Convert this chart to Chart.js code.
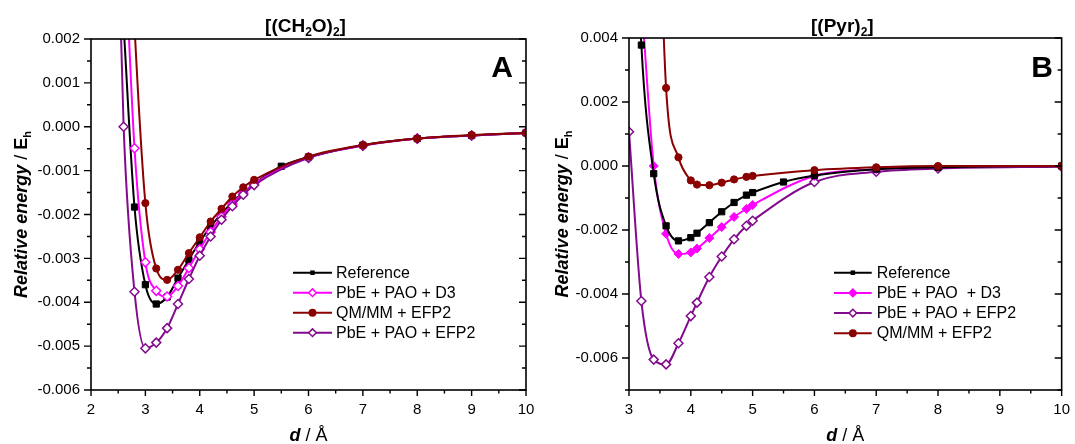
<!DOCTYPE html>
<html><head><meta charset="utf-8">
<script src="https://cdn.jsdelivr.net/npm/chart.js@4.4.1/dist/chart.umd.min.js"></script>
<style>
html,body{margin:0;padding:0;background:#fff;}
#wrap{position:relative;width:1075px;height:444px;overflow:hidden;background:#fff;}
#cA{position:absolute;left:0;top:0;}
#cB{position:absolute;left:540px;top:0;}
</style></head><body>
<div id="wrap"><canvas id="cA" width="540" height="444"></canvas><canvas id="cB" width="535" height="444"></canvas></div>
<script>
// ---------- Panel A data: [(CH2O)2] ----------
const xA_ref = [2.6, 2.8, 3.0, 3.2, 3.4, 3.6, 3.8, 4.0, 4.2, 4.4, 4.6, 4.8, 5.0, 5.5, 6, 7, 8, 9, 10];
const yA_ref = [0.0023, -0.00183, -0.0036, -0.00404, -0.00388, -0.00345, -0.00303, -0.00262, -0.00228, -0.00198, -0.00172, -0.0015, -0.0013, -0.0009, -0.00069, -0.00042, -0.00027, -0.0002, -0.00014];
const xA_d3 = [2.6, 2.8, 3.0, 3.2, 3.4, 3.6, 3.8, 4.0, 4.2, 4.4, 4.6, 4.8, 5.0, 6, 7, 8, 9, 10];
const yA_d3 = [0.0048, -0.00049, -0.00309, -0.00374, -0.00387, -0.00363, -0.00322, -0.00279, -0.0024, -0.00205, -0.00176, -0.00151, -0.0013, -0.0007, -0.00043, -0.00027, -0.0002, -0.00014];
const xA_qm = [2.6, 2.8, 3.0, 3.2, 3.4, 3.6, 3.8, 4.0, 4.2, 4.4, 4.6, 4.8, 5.0, 6, 7, 8, 9, 10];
const yA_qm = [0.008, 0.0023, -0.00174, -0.00323, -0.00349, -0.00326, -0.00288, -0.00252, -0.00216, -0.00187, -0.00159, -0.00138, -0.00121, -0.00068, -0.00042, -0.00027, -0.00019, -0.00014];
const xA_efp = [2.4, 2.6, 2.8, 3.0, 3.2, 3.4, 3.6, 3.8, 4.0, 4.2, 4.4, 4.6, 4.8, 5.0, 6, 7, 8, 9, 10];
const yA_efp = [0.009, 0.0, -0.00376, -0.00505, -0.00492, -0.00459, -0.00404, -0.00347, -0.00294, -0.0025, -0.00212, -0.00181, -0.00155, -0.00133, -0.00071, -0.00043, -0.00027, -0.0002, -0.00014];
const xTicksA = [2, 3, 4, 5, 6, 7, 8, 9, 10];
const yTicksA = [-0.006, -0.005, -0.004, -0.003, -0.002, -0.001, 0.000, 0.001, 0.002];

// ---------- Panel B data: [(Pyr)2] ----------
const xB_ref = [3.0, 3.2, 3.4, 3.6, 3.8, 4.0, 4.1, 4.3, 4.5, 4.7, 4.9, 5.0, 5.5, 6, 7, 8, 10];
const yB_ref = [0.014, 0.00378, -0.00024, -0.00187, -0.00234, -0.00224, -0.0021, -0.00177, -0.00143, -0.00114, -0.00091, -0.00083, -0.0005, -0.0003, -0.0001, -0.00004, 0.0];
const xB_d3 = [3.2, 3.4, 3.6, 3.8, 4.0, 4.1, 4.3, 4.5, 4.7, 4.9, 5.0, 6, 7, 8, 10];
const yB_d3 = [0.0052, 0.0, -0.00212, -0.00275, -0.0027, -0.00258, -0.00225, -0.00191, -0.00159, -0.00134, -0.00122, -0.00031, -0.0001, -0.00003, 0.0];
const xB_efp = [3.0, 3.2, 3.4, 3.6, 3.8, 4.0, 4.1, 4.3, 4.5, 4.7, 4.9, 5.0, 6, 7, 8, 10];
const yB_efp = [0.00107, -0.00422, -0.00605, -0.0062, -0.00554, -0.00469, -0.00427, -0.00347, -0.00283, -0.00229, -0.00187, -0.00171, -0.0005, -0.00018, -0.00008, -0.00002];
const xB_qm = [3.4, 3.6, 3.8, 4.0, 4.1, 4.3, 4.5, 4.7, 4.9, 5.0, 6, 7, 8, 10];
const yB_qm = [0.014, 0.00244, 0.00027, -0.00045, -0.00058, -0.0006, -0.00052, -0.00042, -0.00034, -0.00031, -0.00013, -0.00004, 0.0, 0.0];
const xTicksB = [3, 4, 5, 6, 7, 8, 9, 10];
const yTicksB = [-0.006, -0.004, -0.002, 0.000, 0.002, 0.004];

const labelsA = ['Reference', 'PbE + PAO + D3', 'QM/MM + EFP2', 'PbE + PAO + EFP2'];
const labelsB = ['Reference', 'PbE + PAO  + D3', 'PbE + PAO + EFP2', 'QM/MM + EFP2'];

const C_BLACK = '#000000', C_MAG = '#FF00FF', C_RED = '#8B0000', C_PUR = '#820A8C';
const FONT = "'Liberation Sans', Arial, Helvetica, sans-serif";
Chart.defaults.font.family = FONT;
Chart.defaults.color = '#000';

function ds(label, xs, ys, color, style, filled, radius, order) {
  return {
    label, order,
    data: xs.map((x, i) => ({x, y: ys[i]})),
    borderColor: color, backgroundColor: filled ? color : '#fff',
    pointBackgroundColor: filled ? color : '#fff', pointBorderColor: color,
    pointStyle: style, pointRadius: radius, pointHoverRadius: radius,
    pointBorderWidth: filled ? 1 : 1.5, borderWidth: 2,
    cubicInterpolationMode: 'monotone', tension: 0.4, capBezierPoints: false,
    fill: false, mk: {style, filled, color}
  };
}

function fmtY(v) { return Math.abs(v) < 1e-9 ? '0.000' : v.toFixed(3); }

function drawRich(ctx, segs, x, y, align) {
  let total = 0;
  segs.forEach(s => { ctx.font = s.font; s.w = ctx.measureText(s.t).width; total += s.w; });
  let cx = align === 'center' ? x - total / 2 : (align === 'right' ? x - total : x);
  ctx.textAlign = 'left'; ctx.textBaseline = 'alphabetic';
  segs.forEach(s => { ctx.font = s.font; ctx.fillText(s.t, cx, y + (s.dy || 0)); cx += s.w; });
}

function marker(ctx, style, filled, color, cx, cy, r) {
  ctx.save();
  ctx.fillStyle = filled ? color : '#fff'; ctx.strokeStyle = color; ctx.lineWidth = 1.5;
  ctx.beginPath();
  if (style === 'rect') { const s = r * Math.SQRT1_2; ctx.rect(cx - s, cy - s, 2 * s, 2 * s); }
  else if (style === 'rectRot') { ctx.moveTo(cx, cy - r); ctx.lineTo(cx + r, cy); ctx.lineTo(cx, cy + r); ctx.lineTo(cx - r, cy); ctx.closePath(); }
  else { ctx.arc(cx, cy, r, 0, Math.PI * 2); }
  ctx.fill(); if (!filled || style !== 'rect') ctx.stroke();
  ctx.restore();
}

const decoPlugin = {
  id: 'deco',
  afterDatasetsDraw(chart, args, o) {
    const {ctx, chartArea: a} = chart;
    const xs = chart.scales.x, ys = chart.scales.y;
    ctx.save();
    // frame
    ctx.strokeStyle = '#000'; ctx.lineWidth = 1.6;
    ctx.strokeRect(a.left, a.top, a.right - a.left, a.bottom - a.top);
    ctx.lineWidth = 1.4;
    ctx.beginPath();
    const xt = o.xTicks, yt = o.yTicks;
    xt.forEach((v, i) => {
      const p = xs.getPixelForValue(v);
      ctx.moveTo(p, a.bottom); ctx.lineTo(p, a.bottom + 6);
      if (i < xt.length - 1) {
        const q = xs.getPixelForValue((v + xt[i + 1]) / 2);
        ctx.moveTo(q, a.bottom); ctx.lineTo(q, a.bottom + 3.5);
      }
    });
    const yMinor = [];
    yt.forEach((v, i) => { if (i < yt.length - 1) yMinor.push((v + yt[i + 1]) / 2); });
    if (o.yMinorExtra) yMinor.push(...o.yMinorExtra);
    yt.forEach(v => {
      const p = ys.getPixelForValue(v);
      ctx.moveTo(a.left, p); ctx.lineTo(a.left - 7, p);
      ctx.moveTo(a.right, p); ctx.lineTo(a.right - 7, p);
    });
    yMinor.forEach(v => {
      const p = ys.getPixelForValue(v);
      ctx.moveTo(a.left, p); ctx.lineTo(a.left - 4, p);
      ctx.moveTo(a.right, p); ctx.lineTo(a.right - 4, p);
    });
    ctx.stroke();

    // legend
    const L = o.legend;
    chart.data.datasets.forEach((d, i) => {
      const y = L.y0 + i * L.dy;
      ctx.strokeStyle = d.mk.color; ctx.lineWidth = 2;
      ctx.beginPath(); ctx.moveTo(L.x1, y); ctx.lineTo(L.x2, y); ctx.stroke();
      const r = d.mk.style === 'rect' ? 3.2 : (d.mk.style === 'rectRot' ? 3.8 : 3.2);
      marker(ctx, d.mk.style, d.mk.filled, d.mk.color, (L.x1 + L.x2) / 2, y, r);
      ctx.fillStyle = '#000'; ctx.font = '16px ' + FONT;
      ctx.textAlign = 'left'; ctx.textBaseline = 'middle';
      ctx.fillText(d.label, L.tx, y + 0.5);
    });

    ctx.fillStyle = '#000';
    // panel title
    const cxT = (a.left + a.right) / 2 - 3;
    drawRich(ctx, o.title, cxT, 32, 'center');
    // panel letter
    ctx.font = 'bold 30px ' + FONT; ctx.textAlign = 'right'; ctx.textBaseline = 'alphabetic';
    ctx.fillText(o.letter, o.letterX, 77);
    // x-axis title
    drawRich(ctx, [
      {t: 'd', font: 'italic bold 18px ' + FONT},
      {t: ' / Å', font: '18px ' + FONT}
    ], (a.left + a.right) / 2, 441, 'center');
    // y-axis title
    ctx.save();
    ctx.translate(o.yTitleX, (a.top + a.bottom) / 2);
    ctx.rotate(-Math.PI / 2);
    drawRich(ctx, [
      {t: 'Relative energy', font: 'italic bold 18px ' + FONT},
      {t: ' / ', font: '18px ' + FONT},
      {t: 'E', font: 'bold 18px ' + FONT},
      {t: 'h', font: 'bold 11px ' + FONT, dy: 4}
    ], 0, 6.5, 'center');
    ctx.restore();
    ctx.restore();
  }
};

function makeChart(id, datasets, xmin, xmax, ymin, ymax, xTicks, yTicks, padR, yW, deco) {
  return new Chart(document.getElementById(id), {
    type: 'line',
    data: {datasets},
    plugins: [decoPlugin],
    options: {
      responsive: false, animation: false, devicePixelRatio: 1,
      layout: {padding: {top: deco.padT, right: padR, left: 0, bottom: 0}},
      elements: {line: {capBezierPoints: false}},
      plugins: {legend: {display: false}, tooltip: {enabled: false}, title: {display: false}, deco},
      scales: {
        x: {
          type: 'linear', min: xmin, max: xmax,
          afterBuildTicks: s => { s.ticks = xTicks.map(v => ({value: v})); },
          afterFit: s => { s.height = 54; },
          grid: {display: true, drawOnChartArea: false, drawTicks: true, tickLength: 6, color: 'rgba(0,0,0,0)'},
          border: {display: false},
          ticks: {autoSkip: false, maxRotation: 0, padding: 5, font: {size: 15}, color: '#000', callback: v => String(v)}
        },
        y: {
          type: 'linear', min: ymin, max: ymax,
          afterBuildTicks: s => { s.ticks = yTicks.map(v => ({value: v})); },
          afterFit: s => { s.width = yW; },
          grid: {display: true, drawOnChartArea: false, drawTicks: true, tickLength: 7, color: 'rgba(0,0,0,0)'},
          border: {display: false},
          ticks: {autoSkip: false, padding: 4, font: {size: 15}, color: '#000', callback: v => fmtY(v)}
        }
      }
    }
  });
}

makeChart('cA', [
  ds(labelsA[0], xA_ref, yA_ref, C_BLACK, 'rect', true, 4.4, 3),
  ds(labelsA[1], xA_d3, yA_d3, C_MAG, 'rectRot', false, 4.5, 2),
  ds(labelsA[2], xA_qm, yA_qm, C_RED, 'circle', true, 3.6, 0),
  ds(labelsA[3], xA_efp, yA_efp, C_PUR, 'rectRot', false, 4.5, 1)
], 2, 10, -0.006, 0.002, xTicksA, yTicksA, 14, 91, {
  padT: 39, xTicks: xTicksA, yTicks: yTicksA,
  legend: {x1: 293, x2: 332, tx: 336, y0: 272.7, dy: 20},
  title: [
    {t: '[(CH', font: 'bold 19px ' + FONT},
    {t: '2', font: 'bold 12px ' + FONT, dy: 4},
    {t: 'O)', font: 'bold 19px ' + FONT},
    {t: '2', font: 'bold 12px ' + FONT, dy: 4},
    {t: ']', font: 'bold 19px ' + FONT}
  ],
  letter: 'A', letterX: 513, yTitleX: 20
});

makeChart('cB', [
  ds(labelsB[0], xB_ref, yB_ref, C_BLACK, 'rect', true, 4.4, 1),
  ds(labelsB[1], xB_d3, yB_d3, C_MAG, 'rectRot', true, 4.5, 2),
  ds(labelsB[2], xB_efp, yB_efp, C_PUR, 'rectRot', false, 4.5, 3),
  ds(labelsB[3], xB_qm, yB_qm, C_RED, 'circle', true, 3.6, 0)
], 3, 10, -0.007, 0.004, xTicksB, yTicksB, 8, 89, {
  padT: 38, xTicks: xTicksB, yTicks: yTicksB, yMinorExtra: [-0.007],
  legend: {x1: 294, x2: 331.7, tx: 336.7, y0: 272.7, dy: 20.2},
  title: [
    {t: '[(Pyr)', font: 'bold 19px ' + FONT},
    {t: '2', font: 'bold 12px ' + FONT, dy: 4},
    {t: ']', font: 'bold 19px ' + FONT}
  ],
  letter: 'B', letterX: 513, yTitleX: 21
});
</script></body></html>
